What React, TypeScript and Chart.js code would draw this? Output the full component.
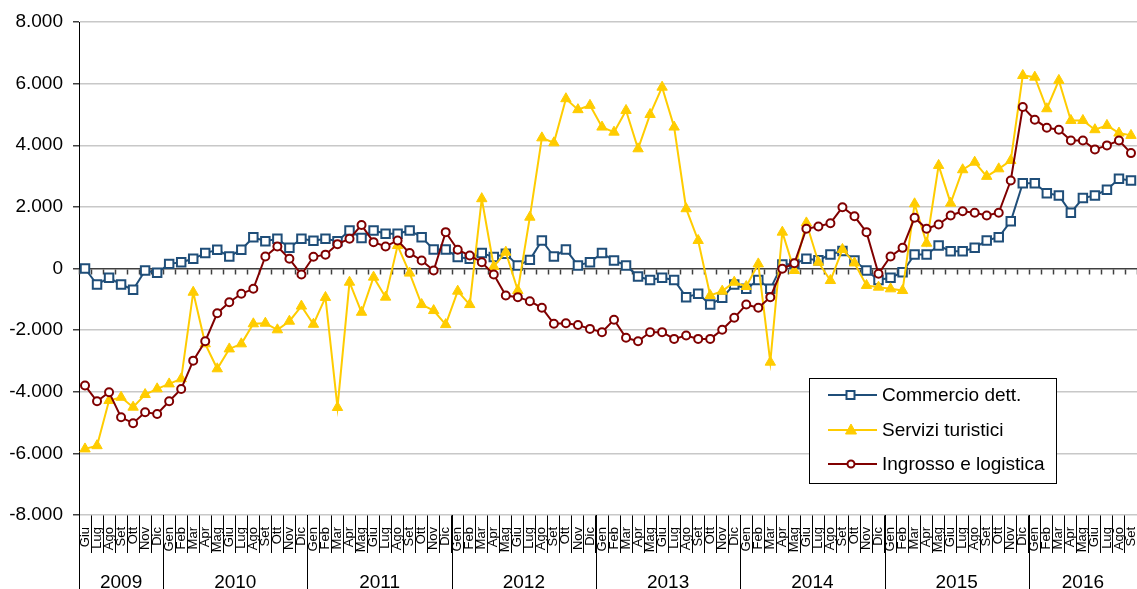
import React, { useEffect, useRef } from 'react';
import { Chart, registerables } from 'chart.js';

Chart.register(...registerables);

// ---- Data ----
const YEARS = ['2009', '2010', '2011', '2012', '2013', '2014', '2015', '2016'];
const MONTHS_PER_YEAR = [7, 12, 12, 12, 12, 12, 12, 9];
const MONTH_NAMES = ['Gen', 'Feb', 'Mar', 'Apr', 'Mag', 'Giu', 'Lug', 'Ago', 'Set', 'Ott', 'Nov', 'Dic'];
const FIRST_MONTH_INDEX = 5; // Giugno 2009

const Y_MIN = -8000;
const Y_MAX = 8000;
const Y_STEP = 2000;

const commercio = [
  0, -520, -300, -520, -690, -65, -140,
  150, 205, 315, 500, 610, 390, 610, 1015, 885, 965, 670, 965,
  900, 965, 885, 1235, 990, 1235, 1125, 1125, 1235, 1015, 615, 615,
  370, 315, 500, 370, 475, 100, 280, 910, 390, 615, 100, 205,
  500, 260, 100, -260, -370, -300, -370, -930, -820, -1170, -950, -520,
  -660, -370, -660, 130, 150, 315, 270, 455, 570, 260, -65, -370,
  -300, -120, 455, 455, 745, 560, 560, 670, 910, 1015, 1535, 2770,
  2770, 2445, 2370, 1810, 2285, 2370, 2555, 2910, 2855,
];

const servizi = [
  -5855, -5750, -4285, -4180, -4500, -4090, -3905,
  -3745, -3580, -770, -2445, -3255, -2610, -2445, -1795, -1775, -1990, -1710, -1220,
  -1810, -940, -4510, -445, -1420, -280, -930, 745, -150, -1170, -1365, -1820,
  -735, -1170, 2265, 65, 530, -715, 1665, 4240, 4080, 5510, 5155, 5295,
  4590, 4425, 5130, 3885, 5000, 5885, 4590, 1940, 910, -875, -735, -445,
  -585, 150, -3040, 1180, -65, 1480, 205, -390, 620, 180, -550, -605,
  -660, -715, 2100, 820, 3345, 2120, 3205, 3450, 2990, 3235, 3505, 6265,
  6210, 5185, 6105, 4805, 4805, 4505, 4645, 4395, 4320,
];

const ingrosso = [
  -3800, -4310, -4015, -4830, -5020, -4665, -4720,
  -4310, -3910, -2990, -2360, -1450, -1095, -820, -660, 390, 715, 315, -195,
  380, 450, 790, 965, 1410, 855, 715, 910, 500, 260, -65, 1180,
  610, 420, 205, -195, -875, -930, -1060, -1275, -1795, -1775, -1835, -1960,
  -2065, -1665, -2250, -2360, -2065, -2065, -2285, -2175, -2285, -2285, -1990, -1600,
  -1170, -1275, -930, -10, 170, 1290, 1365, 1470, 1990, 1695, 1180, -170,
  390, 670, 1645, 1290, 1430, 1720, 1860, 1810, 1720, 1810, 2855, 5240,
  4830, 4570, 4505, 4155, 4155, 3865, 3995, 4155, 3745,
];

const SERIES_LABELS = ['Commercio dett.', 'Servizi turistici', 'Ingrosso e logistica'];

// categories (month labels), built from the year spans above
const categories: string[] = [];
{
  let m = FIRST_MONTH_INDEX;
  MONTHS_PER_YEAR.forEach((count) => {
    for (let k = 0; k < count; k++) {
      categories.push(MONTH_NAMES[m % 12]);
      m++;
    }
  });
}

const FONT = "'Liberation Sans', Arial, sans-serif";

function fmtThousands(v: number): string {
  const s = Math.abs(v).toString().replace(/\B(?=(\d{3})+(?!\d))/g, '.');
  return (v < 0 ? '-' : '') + s;
}

const excelPlugin = {
  id: 'excelDecor',
  beforeDatasetsDraw(chart: any) {
    const { ctx } = chart;
    const xs = chart.scales.x;
    const ys = chart.scales.y;
    const n = chart.data.labels.length;
    const sp = xs.getPixelForValue(1) - xs.getPixelForValue(0);
    const x0 = xs.getPixelForValue(0) - sp / 2;
    const zy = Math.round(ys.getPixelForValue(0)) + 0.5;
    ctx.save();
    ctx.strokeStyle = '#404040';
    ctx.lineWidth = 1.5;
    ctx.beginPath();
    for (let i = 0; i <= n; i++) {
      const x = Math.round(x0 + i * sp) + 0.5;
      ctx.moveTo(x, zy);
      ctx.lineTo(x, zy + 5);
    }
    ctx.stroke();
    ctx.restore();
  },
  afterDraw(chart: any) {
    const { ctx, chartArea } = chart;
    const xs = chart.scales.x;
    const sp = xs.getPixelForValue(1) - xs.getPixelForValue(0);
    const x0 = xs.getPixelForValue(0) - sp / 2;
    const H = chart.height;
    ctx.save();
    // year separators and labels
    ctx.strokeStyle = '#000';
    ctx.lineWidth = 1;
    ctx.fillStyle = '#000';
    ctx.font = `19px ${FONT}`;
    ctx.textAlign = 'center';
    ctx.textBaseline = 'alphabetic';
    let start = 0;
    ctx.beginPath();
    const xl = Math.round(x0) + 0.5;
    ctx.moveTo(xl, chartArea.bottom);
    ctx.lineTo(xl, H);
    YEARS.forEach((yr, j) => {
      const end = start + MONTHS_PER_YEAR[j];
      const xa = x0 + start * sp;
      const xb = x0 + end * sp;
      const xe = Math.round(xb) + 0.5;
      if (end < categories.length) {
        ctx.moveTo(xe, chartArea.bottom);
        ctx.lineTo(xe, H);
      }
      ctx.fillText(yr, (xa + xb) / 2, 588);
      start = end;
    });
    ctx.stroke();

    // legend box
    const bx = 809.5, by = 378.5, bw = 247, bh = 105;
    ctx.fillStyle = '#fff';
    ctx.fillRect(bx, by, bw, bh);
    ctx.strokeStyle = '#000';
    ctx.lineWidth = 1;
    ctx.strokeRect(bx, by, bw, bh);
    const rows = [395, 430, 464];
    chart.data.datasets.forEach((ds: any, i: number) => {
      const y = rows[i];
      ctx.strokeStyle = ds.borderColor;
      ctx.lineWidth = 2;
      ctx.beginPath();
      ctx.moveTo(828, y);
      ctx.lineTo(877, y);
      ctx.stroke();
      ctx.fillStyle = ds.pointBackgroundColor;
      ctx.strokeStyle = ds.pointBorderColor;
      ctx.lineWidth = ds.pointBorderWidth;
      ctx.beginPath();
      if (ds.pointStyle === 'rect') {
        ctx.rect(846.5, y - 4, 8, 8);
      } else if (ds.pointStyle === 'triangle') {
        ctx.moveTo(851, y - 6);
        ctx.lineTo(856.5, y + 4);
        ctx.lineTo(845.5, y + 4);
        ctx.closePath();
      } else {
        ctx.arc(851, y, 3.5, 0, Math.PI * 2);
      }
      ctx.fill();
      ctx.stroke();
      ctx.fillStyle = '#000';
      ctx.font = `19px ${FONT}`;
      ctx.textAlign = 'left';
      ctx.textBaseline = 'middle';
      ctx.fillText(ds.label, 882, y + 1);
    });
    ctx.restore();
  },
};

export default function App() {
  const ref = useRef<HTMLCanvasElement>(null);

  useEffect(() => {
    const canvas = ref.current;
    if (!canvas) return;
    const chart = new Chart(canvas, {
      type: 'line',
      data: {
        labels: categories,
        datasets: [
          {
            label: SERIES_LABELS[0],
            data: commercio,
            borderColor: '#1f4e79',
            borderWidth: 2,
            pointStyle: 'rect',
            pointRadius: 6,
            pointBackgroundColor: '#ffffff',
            pointBorderColor: '#1f4e79',
            pointBorderWidth: 2,
            tension: 0,
            order: 3,
          },
          {
            label: SERIES_LABELS[1],
            data: servizi,
            borderColor: '#ffcc00',
            borderWidth: 2,
            pointStyle: 'triangle',
            pointRadius: 6,
            pointBackgroundColor: '#ffcc00',
            pointBorderColor: '#ffcc00',
            pointBorderWidth: 1,
            tension: 0,
            order: 2,
          },
          {
            label: SERIES_LABELS[2],
            data: ingrosso,
            borderColor: '#800000',
            borderWidth: 2,
            pointStyle: 'circle',
            pointRadius: 4,
            pointBackgroundColor: '#ffffff',
            pointBorderColor: '#800000',
            pointBorderWidth: 2,
            tension: 0,
            order: 1,
          },
        ] as any,
      },
      options: {
        responsive: false,
        animation: false,
        devicePixelRatio: 1,
        layout: { autoPadding: false, padding: { top: 22, left: 0, right: 0, bottom: 0 } },
        plugins: {
          legend: { display: false },
          tooltip: { enabled: false },
        },
        scales: {
          x: {
            type: 'category',
            offset: true,
            grid: {
              offset: true,
              drawOnChartArea: false,
              drawTicks: true,
              tickLength: 38,
              color: '#000',
              lineWidth: 1,
            },
            border: { display: false },
            ticks: {
              autoSkip: false,
              minRotation: 90,
              maxRotation: 90,
              padding: -26,
              color: '#000',
              font: { family: FONT, size: 13 },
            },
            afterFit: (s: any) => {
              s.height = 74;
              s.paddingLeft = 0;
              s.paddingRight = 0;
            },
          },
          y: {
            min: Y_MIN,
            max: Y_MAX,
            ticks: {
              stepSize: Y_STEP,
              padding: 10,
              color: '#000',
              font: { family: FONT, size: 19 },
              callback: (v: any) => fmtThousands(Number(v)),
            },
            grid: {
              color: (c: any) => (c.tick && c.tick.value === 0 ? '#404040' : '#c8c8c8'),
              lineWidth: 1.5,
              tickColor: '#404040',
              tickLength: 6,
            },
            border: { display: true, color: '#000', width: 1 },
            afterFit: (s: any) => {
              s.width = 79;
            },
          },
        },
      } as any,
      plugins: [excelPlugin],
    });
    return () => chart.destroy();
  }, []);

  return (
    <div style={{ position: 'absolute', left: 0, top: 0, width: 1137, height: 589, background: '#fff' }}>
      <canvas ref={ref} width={1137} height={589} style={{ display: 'block' }} />
    </div>
  );
}
